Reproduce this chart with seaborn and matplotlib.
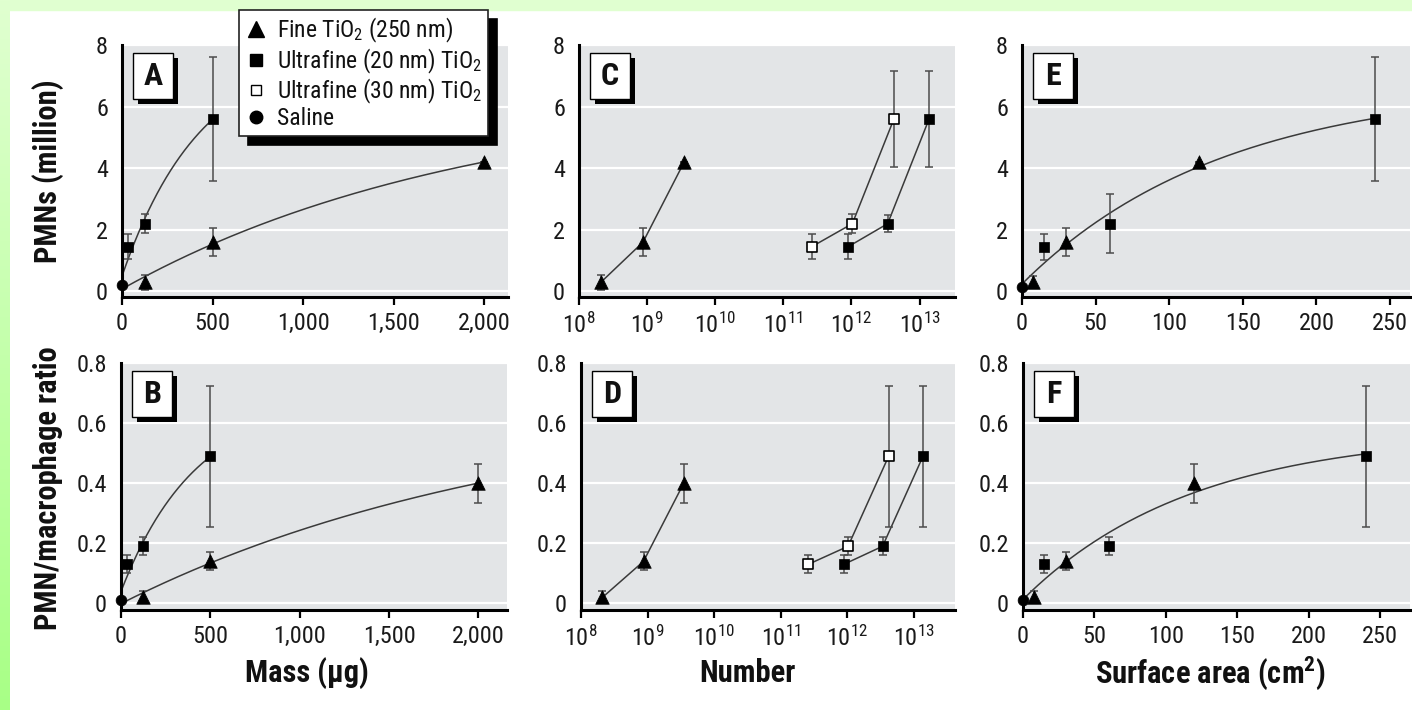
import numpy as np
import matplotlib
matplotlib.use("Agg")
import matplotlib.pyplot as plt
import seaborn as sns
from matplotlib import font_manager as fm
from matplotlib.patches import Rectangle
from matplotlib.lines import Line2D
from matplotlib.ticker import FuncFormatter, FixedLocator, NullLocator, LogFormatterSciNotation
from matplotlib.colors import LinearSegmentedColormap

# ---------------- data ----------------
saline_x = [0]
saline_pmn = [0.2]
saline_ratio = [0.01]

mass_fine = [125, 500, 2000]
mass_uf20 = [31, 125, 500]

number_fine = [2.1e8, 8.7e8, 3.5e9]
number_uf20 = [8.9e11, 3.4e12, 1.38e13]
number_uf30 = [2.6e11, 1.03e12, 4.2e12]

area_fine = [7.5, 30, 120]
area_uf20 = [15, 60, 240]

pmn_fine = [0.3, 1.6, 4.2]
pmn_uf20 = [1.45, 2.2, 5.6]
pmn_uf30 = [1.45, 2.2, 5.6]

ratio_fine = [0.02, 0.14, 0.40]
ratio_uf20 = [0.13, 0.19, 0.49]
ratio_uf30 = [0.13, 0.19, 0.49]

# error bar half-widths as drawn in each panel
errA_fine = [0.25, 0.45, 0.0]
errA_uf20 = [0.4, 0.3, 2.0]
errC_fine = [0.25, 0.45, 0.0]
errC_uf20 = [0.4, 0.28, 1.55]
errC_uf30 = [0.4, 0.3, 1.55]
errE_fine = [0.2, 0.45, 0.0]
errE_uf20 = [0.42, 0.95, 2.0]

err_ratio_fine = [0.02, 0.03, 0.065]
err_ratio_uf20 = [0.03, 0.03, 0.235]
err_ratio_uf30 = [0.03, 0.03, 0.235]

legend_labels = ["Fine TiO$_2$ (250 nm)", "Ultrafine (20 nm) TiO$_2$",
                 "Ultrafine (30 nm) TiO$_2$", "Saline"]
panel_letters = ["A", "B", "C", "D", "E", "F"]
ylabels = ["PMNs (million)", "PMN/macrophage ratio"]
xlabels = ["Mass (\u03bcg)", "Number", "Surface area (cm$^\\mathbf{2}$)"]

# ---------------- style ----------------
sns.set_theme(style="white")
available = {f.name for f in fm.fontManager.ttflist}
main_font = next((n for n in ["Roboto Condensed", "IBM Plex Sans Condensed",
                              "Fira Sans Condensed", "Liberation Sans Narrow"]
                  if n in available), "DejaVu Sans")
FONT = [main_font, "DejaVu Sans"]
plt.rcParams["font.family"] = FONT
plt.rcParams["mathtext.fontset"] = "custom"
plt.rcParams["mathtext.rm"] = main_font
plt.rcParams["mathtext.it"] = main_font + ":italic"
plt.rcParams["mathtext.bf"] = main_font + ":bold"

W, H = 1412, 710
fig = plt.figure(figsize=(W / 100, H / 100), dpi=100)
fig.patch.set_facecolor("white")

def fx(px):
    return px / W

def fy(py):
    return 1 - py / H

def add_axes_px(l, r, t, b):
    return fig.add_axes([fx(l), fy(b), fx(r) - fx(l), fy(t) - fy(b)])

# green frame
fig.add_artist(Rectangle((0, fy(10)), 1, 10 / H, transform=fig.transFigure,
                         color="#e0ffd0", zorder=-1))
gax = fig.add_axes([0, 0, fx(10), 1])
cmap = LinearSegmentedColormap.from_list("g", ["#a8ff86", "#e0ffd0"])
gax.imshow(np.linspace(0, 1, 256)[::-1, None], aspect="auto", cmap=cmap,
           extent=[0, 1, 0, 1])
gax.axis("off")

GRAY = "#e3e5e7"
LINE = "#3a3a3a"
ECOL = "#4c4c4c"
TICK_FS = 17.5

def style_ax(ax):
    ax.set_facecolor(GRAY)
    for sp in ["top", "right"]:
        ax.spines[sp].set_visible(False)
    for sp in ["left", "bottom"]:
        ax.spines[sp].set_color("black")
        ax.spines[sp].set_linewidth(2.2)
        ax.spines[sp].set_zorder(6)
    ax.yaxis.grid(True, color="white", lw=1.6)
    ax.xaxis.grid(False)
    ax.set_axisbelow(True)
    ax.tick_params(axis="y", left=False, length=0, pad=10, labelsize=TICK_FS,
                   labelcolor="#1a1a1a")
    ax.tick_params(axis="x", bottom=True, length=6, width=1.6, direction="out",
                   pad=5, labelsize=TICK_FS, labelcolor="#1a1a1a", color="black")

def sat_fit(x, y, xs):
    x = np.asarray(x, float)
    y = np.asarray(y, float)
    best = None
    for b in np.max(x) * np.geomspace(0.05, 20, 3000):
        A = np.column_stack([np.ones_like(x), 1 - np.exp(-x / b)])
        coef, *_ = np.linalg.lstsq(A, y, rcond=None)
        r = np.sum((A @ coef - y) ** 2)
        if best is None or r < best[0]:
            best = (r, b, coef)
    _, b, coef = best
    return coef[0] + coef[1] * (1 - np.exp(-xs / b))

def markers(ax, x, y, err, kind):
    if err is not None and np.any(np.asarray(err) > 0):
        ax.errorbar(x, y, yerr=err, fmt="none", ecolor=ECOL, elinewidth=1.1,
                    capsize=3, capthick=1.1, zorder=4, clip_on=False)
    if kind == "fine":
        sns.scatterplot(x=x, y=y, ax=ax, marker="^", s=95, color="black",
                        edgecolor="black", linewidth=0.5, zorder=5, clip_on=False)
    elif kind == "uf20":
        sns.scatterplot(x=x, y=y, ax=ax, marker="s", s=62, color="black",
                        edgecolor="black", linewidth=0.5, zorder=5, clip_on=False)
    elif kind == "uf30":
        sns.scatterplot(x=x, y=y, ax=ax, marker="s", s=62, color="white",
                        edgecolor="black", linewidth=1.2, zorder=5, clip_on=False)
    else:
        sns.scatterplot(x=x, y=y, ax=ax, marker="o", s=60, color="black",
                        edgecolor="black", linewidth=0.5, zorder=7, clip_on=False)

def letter_box(ax_l, ax_t, letter):
    l, t = ax_l + 11, ax_t + 8
    w, h = 40, 46
    fig.add_artist(Rectangle((fx(l + 5), fy(t + h + 5)), w / W, h / H,
                             transform=fig.transFigure, facecolor="black",
                             edgecolor="none", zorder=10))
    fig.add_artist(Rectangle((fx(l), fy(t + h)), w / W, h / H,
                             transform=fig.transFigure, facecolor="white",
                             edgecolor="black", lw=1.0, zorder=11))
    fig.text(fx(l + w / 2), fy(t + h / 2), letter, ha="center", va="center",
             fontsize=23, fontweight="bold", zorder=12, color="#111")

comma_fmt = FuncFormatter(lambda v, p: f"{int(round(v)):,}")
ratio_fmt = FuncFormatter(lambda v, p: "0" if abs(v) < 1e-9 else f"{v:.1f}")
int_fmt = FuncFormatter(lambda v, p: f"{int(round(v))}")

# ---------------- panel A ----------------
axA = add_axes_px(122, 508, 45, 297)
style_ax(axA)
xs = np.linspace(0, max(mass_fine), 300)
sns.lineplot(x=xs, y=sat_fit(saline_x + mass_fine, saline_pmn + pmn_fine, xs),
             ax=axA, color=LINE, lw=1.1, zorder=3)
xs = np.linspace(0, max(mass_uf20), 300)
sns.lineplot(x=xs, y=sat_fit(saline_x + mass_uf20, saline_pmn + pmn_uf20, xs),
             ax=axA, color=LINE, lw=1.1, zorder=3)
markers(axA, mass_fine, pmn_fine, errA_fine, "fine")
markers(axA, mass_uf20, pmn_uf20, errA_uf20, "uf20")
markers(axA, saline_x, saline_pmn, None, "saline")
axA.set_xlim(0, 2131)
axA.set_ylim(-0.18, 8)
axA.xaxis.set_major_locator(FixedLocator([0, 500, 1000, 1500, 2000]))
axA.xaxis.set_major_formatter(comma_fmt)
axA.yaxis.set_major_locator(FixedLocator([0, 2, 4, 6, 8]))
axA.yaxis.set_major_formatter(int_fmt)

# ---------------- panel B ----------------
axB = add_axes_px(121, 507, 363, 610)
style_ax(axB)
xs = np.linspace(0, max(mass_fine), 300)
sns.lineplot(x=xs, y=sat_fit(saline_x + mass_fine, saline_ratio + ratio_fine, xs),
             ax=axB, color=LINE, lw=1.1, zorder=3)
xs = np.linspace(0, max(mass_uf20), 300)
sns.lineplot(x=xs, y=sat_fit(saline_x + mass_uf20, saline_ratio + ratio_uf20, xs),
             ax=axB, color=LINE, lw=1.1, zorder=3)
markers(axB, mass_fine, ratio_fine, err_ratio_fine, "fine")
markers(axB, mass_uf20, ratio_uf20, err_ratio_uf20, "uf20")
markers(axB, saline_x, saline_ratio, None, "saline")
axB.set_xlim(0, 2160)
axB.set_ylim(-0.022, 0.8)
axB.xaxis.set_major_locator(FixedLocator([0, 500, 1000, 1500, 2000]))
axB.xaxis.set_major_formatter(comma_fmt)
axB.yaxis.set_major_locator(FixedLocator([0, 0.2, 0.4, 0.6, 0.8]))
axB.yaxis.set_major_formatter(ratio_fmt)

# ---------------- panels C, D ----------------
def number_panel(ax, yf, y20, y30, ef, e20, e30, xmax, ylim, yticks, yfmt):
    style_ax(ax)
    ax.set_xscale("log")
    sns.lineplot(x=number_fine, y=yf, ax=ax, color=LINE, lw=1.1, zorder=3)
    sns.lineplot(x=number_uf30, y=y30, ax=ax, color=LINE, lw=1.1, zorder=3)
    sns.lineplot(x=number_uf20, y=y20, ax=ax, color=LINE, lw=1.1, zorder=3)
    markers(ax, number_fine, yf, ef, "fine")
    markers(ax, number_uf30, y30, e30, "uf30")
    markers(ax, number_uf20, y20, e20, "uf20")
    ax.set_xlim(1e8, xmax)
    ax.set_ylim(*ylim)
    ax.xaxis.set_major_locator(FixedLocator([1e8, 1e9, 1e10, 1e11, 1e12, 1e13]))
    ax.xaxis.set_minor_locator(NullLocator())
    ax.xaxis.set_major_formatter(LogFormatterSciNotation())
    ax.yaxis.set_major_locator(FixedLocator(yticks))
    ax.yaxis.set_major_formatter(yfmt)

axC = add_axes_px(579, 955, 45, 297)
number_panel(axC, pmn_fine, pmn_uf20, pmn_uf30, errC_fine, errC_uf20, errC_uf30,
             10 ** 13.52, (-0.18, 8), [0, 2, 4, 6, 8], int_fmt)
axD = add_axes_px(581, 955, 363, 610)
number_panel(axD, ratio_fine, ratio_uf20, ratio_uf30, err_ratio_fine,
             err_ratio_uf20, err_ratio_uf30, 10 ** 13.62, (-0.022, 0.8),
             [0, 0.2, 0.4, 0.6, 0.8], ratio_fmt)

# ---------------- panels E, F ----------------
def area_panel(ax, ys, yf, y20, ef, e20, xmax, ylim, yticks, yfmt):
    style_ax(ax)
    allx = saline_x + area_fine + area_uf20
    ally = ys + yf + y20
    xs = np.linspace(0, max(area_uf20), 300)
    sns.lineplot(x=xs, y=sat_fit(allx, ally, xs), ax=ax, color=LINE, lw=1.1,
                 zorder=3)
    markers(ax, area_fine, yf, ef, "fine")
    markers(ax, area_uf20, y20, e20, "uf20")
    markers(ax, saline_x, ys, None, "saline")
    ax.set_xlim(0, xmax)
    ax.set_ylim(*ylim)
    ax.xaxis.set_major_locator(FixedLocator([0, 50, 100, 150, 200, 250]))
    ax.xaxis.set_major_formatter(int_fmt)
    ax.yaxis.set_major_locator(FixedLocator(yticks))
    ax.yaxis.set_major_formatter(yfmt)

axE = add_axes_px(1022, 1410, 45, 297)
area_panel(axE, [0.15], pmn_fine, pmn_uf20, errE_fine, errE_uf20, 263.6,
           (-0.18, 8), [0, 2, 4, 6, 8], int_fmt)
axF = add_axes_px(1023, 1410, 363, 610)
area_panel(axF, saline_ratio, ratio_fine, ratio_uf20, err_ratio_fine,
           err_ratio_uf20, 271, (-0.022, 0.8), [0, 0.2, 0.4, 0.6, 0.8], ratio_fmt)

for ax in [axA, axB, axC, axD, axE, axF]:
    if ax.get_legend() is not None:
        ax.get_legend().remove()
    ax.set_xlabel("")
    ax.set_ylabel("")

# letters
for ax_px, letter in zip([(122, 45), (121, 363), (579, 45), (581, 363),
                          (1022, 45), (1023, 363)], panel_letters):
    letter_box(ax_px[0], ax_px[1], letter)

# axis labels
LBL = dict(fontsize=22, fontweight="bold", color="#111")
fig.text(fx(48), fy(171), ylabels[0], rotation=90, ha="center", va="center", **LBL)
fig.text(fx(48), fy(488), ylabels[1], rotation=90, ha="center", va="center", **LBL)
fig.text(fx(307), fy(673), xlabels[0], ha="center", va="center", **LBL)
fig.text(fx(747), fy(673), xlabels[1], ha="center", va="center", **LBL)
fig.text(fx(1210), fy(673), xlabels[2], ha="center", va="center", **LBL)

# legend
handles = [
    Line2D([], [], marker="^", ls="none", color="black", markersize=11),
    Line2D([], [], marker="s", ls="none", color="black", markersize=9),
    Line2D([], [], marker="s", ls="none", markerfacecolor="white",
           markeredgecolor="black", markersize=7.5, markeredgewidth=1.0),
    Line2D([], [], marker="o", ls="none", color="black", markersize=9),
]
leg = fig.legend(handles, legend_labels, loc="upper left",
                 bbox_to_anchor=(fx(239), fy(10)), borderaxespad=0,
                 fontsize=17, frameon=True, fancybox=False, framealpha=1,
                 edgecolor="#222", borderpad=0.25, labelspacing=0.06,
                 handlelength=0.9, handletextpad=0.45,
                 shadow={"ox": 6.5, "oy": -6.5, "color": "black", "alpha": 1})
leg.get_frame().set_linewidth(1.2)
for t in leg.get_texts():
    t.set_color("#111")

fig.savefig("out.png", dpi=100)
